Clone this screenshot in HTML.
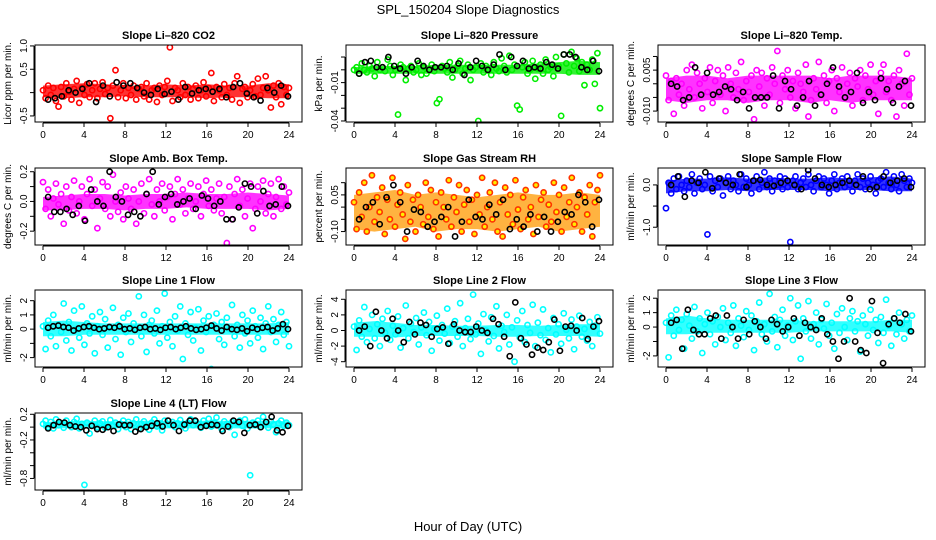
<!DOCTYPE html>
<html><head><meta charset="utf-8">
<style>
html,body{margin:0;padding:0;background:#fff;}
svg{display:block;font-family:"Liberation Sans",sans-serif;}
</style></head>
<body>
<svg id="chart" width="936" height="540" viewBox="0 0 936 540">
<text x="468" y="14" text-anchor="middle" font-size="13">SPL_150204  Slope Diagnostics</text>
<text x="468" y="531" text-anchor="middle" font-size="13">Hour of Day (UTC)</text>
</svg>
<script>
// ---- data arrays (hour positions spread evenly across 0-24) ----
const hourTicks = [0,4,8,12,16,20,24];

const co2Vals = [0.05,-0.12,0.15,-0.05,0.1,-0.18,-0.3,0.12,-0.08,0.2,0.02,-0.15,0.08,0.25,-0.22,0.1,-0.05,0.18,-0.1,0.05,0.2,-0.12,0.08,0.22,-0.03,0.1,-0.55,0.15,0.48,-0.1,0.05,0.2,-0.12,0.1,-0.05,0.15,-0.15,0.08,0.12,-0.08,0.2,-0.15,0.05,0.1,-0.2,0.15,-0.05,0.12,0.25,0.97,-0.18,0.1,0.05,-0.1,0.2,-0.05,0.12,-0.15,0.08,0.15,-0.12,0.05,0.22,-0.08,0.1,0.42,-0.18,0.12,0.05,-0.1,0.18,-0.05,0.1,-0.15,0.2,0.35,-0.22,0.08,0.12,-0.1,0.05,0.18,-0.08,0.3,-0.05,0.1,0.35,0.05,-0.32,0.15,-0.1,0.2,-0.25,0.12,-0.05,0.1];
const co2Black = [-0.15,-0.12,-0.08,0.05,0.0,0.08,0.2,-0.2,0.15,-0.08,0.22,0.15,0.2,0.1,0.0,-0.05,0.08,-0.03,0.02,-0.15,0.12,-0.02,0.05,0.08,0.02,0.08,-0.1,0.12,0.2,-0.02,-0.1,-0.17,0.1,0.0,0.15,-0.08];
const co2BandLo = [-0.1,-0.12,-0.1,-0.1,-0.08,-0.1,-0.1,-0.1,-0.12,-0.1,-0.1,-0.12,-0.12];
const co2BandHi = [0.15,0.18,0.2,0.18,0.15,0.15,0.18,0.15,0.18,0.15,0.15,0.2,0.18];

const presVals = [0.0,0.002,-0.003,0.005,0.0,-0.002,0.003,0.001,-0.005,0.006,0.0,0.002,-0.001,0.008,0.003,-0.004,0.0,-0.035,0.004,0.002,-0.008,0.001,0.003,-0.002,0.0,0.005,-0.004,0.002,-0.003,0.0,0.004,-0.001,-0.026,-0.023,0.003,0.001,-0.002,0.006,-0.006,0.0,0.003,0.007,-0.003,0.001,0.004,-0.008,0.0,0.002,-0.040,0.005,-0.002,0.003,0.0,-0.004,0.006,0.001,-0.001,0.009,0.003,-0.002,0.011,0.0,0.004,-0.028,-0.031,0.002,0.006,-0.003,0.0,0.007,-0.007,0.001,0.004,-0.003,0.008,0.0,0.002,-0.005,0.010,0.003,-0.036,0.012,0.005,-0.002,0.014,0.003,0.009,-0.001,0.006,-0.012,0.004,0.0,0.008,-0.011,0.013,-0.030];
const presBlack = [-0.003,0.006,0.007,0.002,0.002,0.010,0.003,0.001,-0.003,0.002,0.007,0.003,0.0,0.002,0.002,0.003,0.0,0.005,-0.004,0.002,0.007,0.003,0.0,0.004,0.012,0.0,0.010,0.003,0.007,0.001,0.002,0.001,0.006,0.004,0.001,0.012,0.012,0.010,0.002,0.0,0.007,-0.001];
const presBandLo = [-0.003,-0.003,-0.003,-0.003,-0.003,-0.003,-0.003,-0.003,-0.003,-0.003,-0.003,-0.004,-0.004];
const presBandHi = [0.002,0.003,0.003,0.003,0.004,0.004,0.004,0.004,0.004,0.005,0.006,0.007,0.006];

const tempVals = [0.003,-0.006,0.001,-0.011,0.002,-0.004,0.0,-0.008,0.005,-0.002,0.007,-0.005,0.004,0.0,-0.009,0.002,-0.003,0.006,-0.007,0.001,0.005,-0.004,0.003,-0.01,0.006,0.0,-0.005,0.004,-0.002,0.008,-0.006,0.001,-0.003,0.003,-0.013,0.005,-0.001,0.004,-0.008,0.002,-0.004,0.006,0.0,0.012,-0.007,0.003,-0.002,0.005,-0.005,0.001,-0.009,0.004,0.0,-0.003,0.007,-0.012,-0.006,0.002,-0.002,0.008,-0.004,0.003,-0.007,0.001,0.005,-0.01,0.002,-0.003,0.006,-0.005,0.0,0.004,-0.008,0.002,-0.001,0.005,-0.006,0.003,-0.002,0.007,-0.004,0.001,-0.011,0.004,0.007,-0.003,0.001,-0.006,0.003,-0.012,0.005,0.0,-0.008,0.011,-0.004,0.002];
const tempBlack = [0.000,-0.001,-0.006,-0.005,0.006,-0.004,0.004,-0.004,-0.003,-0.001,-0.002,-0.006,-0.003,-0.009,-0.005,-0.005,-0.005,0.003,-0.009,0.001,-0.002,-0.008,-0.005,0.001,-0.008,-0.004,0.000,0.006,-0.001,-0.005,-0.003,0.004,-0.007,-0.003,-0.006,0.002,-0.002,-0.007,-0.001,0.001,-0.008];
const tempBandLo = [-0.006,-0.007,-0.006,-0.006,-0.007,-0.006,-0.006,-0.007,-0.006,-0.007,-0.006,-0.006,-0.006];
const tempBandHi = [0.002,0.003,0.003,0.002,0.003,0.003,0.003,0.003,0.002,0.003,0.003,0.003,0.002];

const ambVals = [0.13,-0.05,0.08,-0.1,0.02,0.12,-0.02,0.05,-0.15,0.1,-0.06,0.03,0.14,-0.08,0.0,0.1,-0.12,0.05,0.15,-0.03,0.08,-0.18,0.02,0.13,-0.05,0.1,-0.1,0.18,0.0,-0.07,0.06,-0.12,0.1,0.02,-0.05,0.08,-0.15,0.0,0.12,-0.08,0.05,0.15,-0.02,-0.1,0.08,0.0,0.12,-0.06,0.03,0.1,-0.12,0.05,0.15,-0.02,0.08,-0.08,0.02,0.12,-0.05,0.0,0.1,-0.1,0.05,0.14,-0.03,0.08,-0.06,0.02,0.12,-0.08,0.03,-0.28,0.1,-0.12,0.05,0.15,-0.03,0.08,-0.1,0.02,0.12,-0.18,-0.05,0.1,0.0,0.14,-0.08,0.05,0.12,-0.1,0.03,0.15,-0.05,0.1,-0.02,0.06];
const ambBlack = [0.03,-0.07,-0.07,-0.05,-0.09,-0.03,-0.13,0.08,0.0,-0.03,0.2,0.03,0.0,-0.09,-0.07,-0.1,0.05,0.2,-0.02,0.03,0.05,-0.02,0.0,0.02,-0.05,0.04,0.02,-0.03,0.0,-0.12,-0.12,-0.04,0.12,0.1,-0.08,0.07,-0.03,-0.02,0.1,-0.03];
const ambBandLo = [-0.06,-0.06,-0.05,-0.05,-0.06,-0.05,-0.05,-0.04,-0.05,-0.05,-0.05,-0.06,-0.05];
const ambBandHi = [0.03,0.04,0.05,0.05,0.04,0.05,0.05,0.06,0.05,0.05,0.06,0.05,0.04];

const rhVals = [0.02,-0.09,0.06,-0.04,0.1,-0.1,0.0,0.13,-0.06,0.04,-0.02,0.08,-0.11,0.03,-0.05,0.12,-0.08,0.01,0.06,-0.03,-0.13,0.09,-0.06,0.03,-0.1,0.05,0.0,-0.07,0.1,-0.04,0.07,-0.09,0.02,-0.12,0.06,0.0,-0.05,0.11,-0.08,0.04,-0.02,0.09,-0.1,0.01,0.07,-0.06,0.03,-0.11,0.05,-0.03,0.12,-0.08,0.0,0.06,-0.05,0.1,-0.1,0.02,-0.12,0.08,-0.03,0.05,-0.07,0.11,-0.01,-0.09,0.04,0.07,-0.05,0.0,-0.11,0.09,-0.04,0.03,0.06,-0.08,0.01,-0.06,0.1,-0.02,0.05,-0.1,0.08,-0.04,0.02,0.12,-0.07,0.0,0.06,-0.1,0.04,-0.03,0.09,-0.12,0.02,0.07,0.13];
const rhBlack = [-0.05,0.0,0.02,-0.07,0.04,0.09,0.02,-0.1,-0.01,-0.02,-0.08,-0.06,-0.04,0.0,-0.12,-0.06,0.03,-0.04,-0.05,0.01,-0.03,0.03,-0.09,-0.05,-0.08,-0.03,-0.1,-0.04,-0.1,-0.06,-0.02,-0.03,0.05,0.02,-0.08,0.03];
const rhBandLo = [-0.09,-0.1,-0.09,-0.08,-0.1,-0.09,-0.09,-0.1,-0.09,-0.08,-0.1,-0.09,-0.08];
const rhBandHi = [0.05,0.06,0.07,0.05,0.06,0.05,0.04,0.05,0.06,0.05,0.05,0.06,0.05];

const sampVals = [-0.55,0.05,-0.2,0.15,-0.1,0.2,0.0,-0.15,0.1,-0.05,0.25,-0.2,0.05,0.15,-0.1,0.0,-1.17,0.2,-0.15,0.1,-0.05,0.15,-0.25,0.05,0.2,-0.1,0.1,0.0,-0.15,0.25,-0.05,0.15,0.0,-0.2,0.1,0.2,-0.1,0.05,0.3,-0.05,0.15,-0.15,0.1,0.0,0.2,-0.1,0.15,-0.05,-1.35,0.1,0.2,-0.1,0.05,0.15,-0.05,0.25,0.0,-0.15,0.1,0.2,-0.05,0.15,0.0,-0.2,0.1,0.25,-0.1,0.05,0.15,-0.05,0.2,0.0,-0.15,0.1,0.25,-0.05,0.15,-0.1,0.05,0.2,0.0,-0.2,0.1,0.15,-0.05,0.3,0.05,-0.1,0.2,0.0,-0.15,0.25,0.1,-0.05,0.15,0.05];
const sampBlack = [0.0,0.2,-0.28,0.1,0.05,0.3,-0.08,0.15,0.05,0.0,0.25,-0.05,0.1,0.12,0.0,-0.02,0.05,0.1,0.0,-0.1,0.35,0.15,0.0,-0.05,0.0,0.05,0.1,0.0,0.2,-0.1,-0.05,0.2,0.05,0.1,0.15,-0.05];
const sampBandLo = [-0.2,-0.15,-0.15,-0.12,-0.15,-0.12,-0.12,-0.12,-0.15,-0.12,-0.12,-0.15,-0.15];
const sampBandHi = [0.1,0.15,0.15,0.18,0.15,0.18,0.15,0.15,0.18,0.15,0.18,0.2,0.15];

const line1Vals = [0.2,-1.4,0.6,-0.5,1.0,-1.2,0.3,-0.2,1.8,-0.8,0.5,-1.5,1.3,0.0,-0.6,1.6,-1.1,0.4,-0.3,0.9,-1.7,0.2,1.2,-0.4,0.7,-1.3,0.1,1.5,-0.7,0.3,-1.8,0.8,-0.2,1.1,-0.9,0.4,0.0,2.3,-0.5,1.0,-1.6,0.3,0.6,-0.3,1.3,-1.0,0.2,2.5,-0.6,0.5,-1.2,0.9,-0.1,1.6,-2.1,0.4,-0.4,1.2,-0.8,0.1,1.4,-1.5,0.6,-0.2,0.9,-2.8,0.3,1.1,-0.7,0.5,-1.1,0.8,0.0,1.7,-0.5,0.3,-1.3,1.0,-0.3,0.6,-1.0,1.3,0.2,-0.6,0.8,-1.4,0.4,1.6,-0.2,0.7,-0.9,0.3,1.2,-0.4,0.5,-1.2];
const line1Black = [0.1,0.2,0.25,0.15,0.1,-0.1,0.05,0.15,0.2,0.1,0.0,0.05,0.15,0.1,0.2,0.0,0.05,-0.05,0.1,0.15,0.0,0.05,-0.05,0.1,0.15,0.0,0.1,0.2,0.05,-0.05,0.0,0.1,0.25,0.05,-0.1,0.15,0.0,-0.05,0.05,-0.15,0.1,0.0,0.1,0.15,-0.1,0.05,0.35,0.0];
const line1BandLo = [-0.5,-0.5,-0.4,-0.4,-0.4,-0.4,-0.4,-0.4,-0.4,-0.4,-0.4,-0.4,-0.4];
const line1BandHi = [0.5,0.6,0.5,0.4,0.4,0.4,0.4,0.4,0.4,0.4,0.4,0.4,0.5];

const line2Vals = [0.5,-2.5,1.3,-0.8,3.0,-1.5,0.2,2.0,-1.0,0.8,-2.0,1.5,-0.3,2.5,-1.2,0.6,-0.5,1.8,-2.2,0.3,3.2,-1.0,0.9,-0.2,1.6,-1.8,0.4,2.3,-0.6,1.1,-2.6,0.2,1.9,-1.3,0.7,-0.4,2.8,-1.6,0.5,1.2,-0.8,3.5,-2.0,0.3,1.5,-1.1,4.6,-0.5,0.9,-3.0,2.1,0.0,-1.4,1.7,-0.7,3.1,-2.3,0.6,-0.2,2.0,-1.8,0.4,-4.0,1.3,-0.9,2.5,-1.5,0.7,-0.3,3.3,-2.0,1.0,-0.6,2.7,-1.2,0.3,-2.8,1.6,-0.5,0.8,-1.7,2.2,0.1,-1.0,1.4,-2.4,0.5,1.9,-0.8,0.2,-1.3,1.1,-2.0,0.6,1.7,-0.4];
const line2Black = [0.0,0.5,-2.0,2.4,0.0,-1.0,1.5,0.0,-1.5,1.1,-0.5,1.0,0.7,-0.8,0.2,0.4,-1.7,0.8,0.0,-0.2,-0.2,0.5,0.0,-0.3,1.5,0.8,-0.8,-3.3,3.6,-1.0,-1.8,-3.1,-2.2,-2.5,-1.5,1.4,-2.6,0.5,0.6,0.0,1.6,-1.1,0.5,1.2];
const line2BandLo = [-0.8,-0.8,-0.9,-0.7,-0.7,-0.7,-0.7,-0.8,-0.8,-0.7,-0.7,-0.7,-0.8];
const line2BandHi = [1.0,1.2,1.0,0.7,0.7,0.6,0.6,0.7,0.7,0.6,0.7,0.8,0.8];

const line3Vals = [0.3,-2.1,0.8,-0.6,1.2,-0.2,0.5,-1.5,0.9,0.1,-0.8,1.4,-0.3,0.6,-1.8,0.2,1.0,-0.5,0.4,-1.2,0.7,0.0,1.3,-0.9,0.3,-0.4,1.5,-1.3,0.6,0.1,-0.7,1.1,-0.2,0.8,-1.6,0.4,1.7,-0.5,0.2,-1.0,2.3,-0.3,0.7,-1.4,0.5,1.2,-0.6,0.1,2.0,-0.9,0.4,1.5,-2.2,0.6,-0.3,1.8,-0.8,0.2,1.0,-1.2,0.5,-0.1,1.6,-0.6,0.3,-1.5,0.9,-0.4,1.3,0.0,-0.9,0.6,1.1,-0.3,0.4,-1.7,0.8,0.2,-0.6,1.2,-0.2,0.5,-1.1,0.7,-0.4,1.9,0.1,-1.3,0.6,-0.5,1.0,0.2,-0.8,0.5,-0.3,0.8];
const line3Black = [0.3,0.5,-1.5,1.2,-0.2,-0.5,-0.5,0.6,0.8,-0.8,0.8,0.0,-0.8,0.5,-0.5,0.4,0.0,-0.8,0.5,0.2,-0.3,0.0,0.6,-0.6,0.3,0.0,-0.2,0.6,-0.5,-1.0,-2.2,-1.0,2.0,-1.0,-1.6,-1.8,1.8,-0.4,-2.5,0.2,0.6,0.3,0.9,-0.3];
const line3BandLo = [-0.5,-0.5,-0.4,-0.4,-0.4,-0.4,-0.4,-0.3,-0.3,-0.3,-0.3,-0.3,-0.4];
const line3BandHi = [0.6,0.8,0.6,0.5,0.5,0.5,0.5,0.4,0.4,0.4,0.4,0.5,0.5];

const line4Vals = [0.05,0.1,0.0,0.08,-0.02,0.12,0.03,0.06,-0.01,0.1,0.04,0.0,0.08,0.13,-0.02,0.05,-0.9,0.07,-0.1,0.03,0.1,0.0,0.06,0.09,-0.01,0.04,0.11,0.02,0.07,-0.03,0.05,0.1,0.0,0.08,-0.03,0.06,0.12,-0.02,0.05,0.09,0.02,-0.04,0.07,0.12,0.01,0.06,-0.05,0.1,-1.05,0.04,0.08,0.0,0.06,0.11,0.02,-0.02,0.07,0.12,0.03,0.08,0.05,-0.01,0.1,0.04,0.13,0.01,0.07,0.15,0.03,-0.03,0.09,0.05,0.0,0.08,-0.12,0.06,0.1,0.02,0.12,-0.02,-0.75,0.07,0.03,0.1,0.0,0.16,0.05,-0.01,0.09,0.04,-0.08,0.06,0.1,0.02,0.07,0.03];
const line4Black = [-0.02,0.03,0.08,0.07,0.03,0.01,0.0,-0.05,0.02,-0.03,-0.04,0.0,-0.06,0.04,0.03,0.03,-0.07,-0.03,0.0,0.02,0.06,0.01,0.1,0.03,-0.06,0.04,0.1,0.1,0.0,0.02,0.04,0.03,-0.06,0.01,0.1,0.08,-0.09,0.03,0.04,0.0,0.08,0.16,-0.05,-0.08,0.02];
const line4BandLo = [-0.02,-0.02,-0.02,-0.02,-0.02,-0.02,-0.02,-0.02,-0.02,-0.02,-0.02,-0.02,-0.02];
const line4BandHi = [0.08,0.09,0.1,0.09,0.09,0.1,0.1,0.1,0.1,0.1,0.1,0.1,0.09];

// ---- panel layout (positions are layout, not data) ----
const panels = [
 {name:'co2',title:'Slope Li\u2013820 CO2',ylab:'Licor ppm per min.',col:0,row:0,ymin:-0.63,ymax:1.02,ticks:[-0.5,0,0.5,1.0],labels:{'-0.5':'-0.5','0.5':'0.5','1':'1.0'},vals:co2Vals,blk:co2Black,lo:co2BandLo,hi:co2BandHi,color:'#ff0000'},
 {name:'pressure',title:'Slope Li\u2013820 Pressure',ylab:'kPa per min.',col:1,row:0,ymin:-0.0408,ymax:0.0194,ticks:[-0.04,-0.03,-0.02,-0.01,0,0.01],labels:{'-0.04':'-0.04','-0.01':'-0.01'},vals:presVals,blk:presBlack,lo:presBandLo,hi:presBandHi,color:'#00ee00'},
 {name:'li820-temp',title:'Slope Li\u2013820 Temp.',ylab:'degrees C per min.',col:2,row:0,ymin:-0.0140,ymax:0.0142,ticks:[-0.010,-0.005,0,0.005,0.010],labels:{'-0.01':'-0.010','0.005':'0.005'},vals:tempVals,blk:tempBlack,lo:tempBandLo,hi:tempBandHi,color:'#ff00ff'},
 {name:'amb-box-temp',title:'Slope Amb. Box Temp.',ylab:'degrees C per min.',col:0,row:1,ymin:-0.293,ymax:0.225,ticks:[-0.2,-0.1,0,0.1,0.2],labels:{'-0.2':'-0.2','0':'0.0','0.2':'0.2'},vals:ambVals,blk:ambBlack,lo:ambBandLo,hi:ambBandHi,color:'#ff00ff'},
 {name:'gas-stream-rh',title:'Slope Gas Stream RH',ylab:'percent per min.',col:1,row:1,ymin:-0.155,ymax:0.16,ticks:[-0.1,-0.05,0,0.05,0.1],labels:{'-0.1':'-0.10','0.05':'0.05'},vals:rhVals,blk:rhBlack,lo:rhBandLo,hi:rhBandHi,color:'#ff3300',fill:'#ffee00',bandColor:'#ff9900'},
 {name:'sample-flow',title:'Slope Sample Flow',ylab:'ml/min per min.',col:2,row:1,ymin:-1.42,ymax:0.4,ticks:[-1.0,-0.5,0],labels:{'-1':'-1.0','0':'0.0'},vals:sampVals,blk:sampBlack,lo:sampBandLo,hi:sampBandHi,color:'#0000ff'},
 {name:'line1-flow',title:'Slope Line 1 Flow',ylab:'ml/min per min.',col:0,row:2,ymin:-2.66,ymax:2.75,ticks:[-2,-1,0,1,2],labels:{'-2':'-2','0':'0','1':'1','2':'2'},vals:line1Vals,blk:line1Black,lo:line1BandLo,hi:line1BandHi,color:'#00ffff'},
 {name:'line2-flow',title:'Slope Line 2 Flow',ylab:'ml/min per min.',col:1,row:2,ymin:-4.68,ymax:5.19,ticks:[-4,-2,0,2,4],labels:{'-4':'-4','-2':'-2','0':'0','2':'2','4':'4'},vals:line2Vals,blk:line2Black,lo:line2BandLo,hi:line2BandHi,color:'#00ffff'},
 {name:'line3-flow',title:'Slope Line 3 Flow',ylab:'ml/min per min.',col:2,row:2,ymin:-2.77,ymax:2.57,ticks:[-2,-1,0,1,2],labels:{'-2':'-2','0':'0','1':'1','2':'2'},vals:line3Vals,blk:line3Black,lo:line3BandLo,hi:line3BandHi,color:'#00ffff'},
 {name:'line4-flow',title:'Slope Line 4 (LT) Flow',ylab:'ml/min per min.',col:0,row:3,ymin:-0.98,ymax:0.22,ticks:[-0.8,-0.6,-0.4,-0.2,0,0.2],labels:{'-0.8':'-0.8','-0.2':'-0.2','0.2':'0.2'},vals:line4Vals,blk:line4Black,lo:line4BandLo,hi:line4BandHi,color:'#00ffff'}
];
const colX = [35,346,658];
const rowY = [45,168,290,413];
const boxW = 267, boxH = 77;

const svg = document.getElementById('chart');
const NS = 'http://www.w3.org/2000/svg';
function mk(tag, attrs, parent){
  const e = document.createElementNS(NS, tag);
  for (const k in attrs) e.setAttribute(k, attrs[k]);
  (parent||svg).appendChild(e);
  return e;
}

panels.forEach(p=>{
  const L = colX[p.col], T = rowY[p.row], R = L+boxW, B = T+boxH;
  const g = mk('g',{});
  
  
  const xs = h => L + 8 + h*(boxW-21)/24;
  const ys = v => T + (p.ymax - v)/(p.ymax - p.ymin)*boxH;
  const clip = 'clip-'+p.name;
  const cp = mk('clipPath',{id:clip},g); mk('rect',{x:L,y:T,width:boxW,height:boxH},cp);

  const t = mk('text',{x:(L+R)/2,y:T-6,'text-anchor':'middle','font-size':'11','font-weight':'bold'},g);
  t.textContent = p.title;
  
  

  const pts = mk('g',{'clip-path':'url(#'+clip+')'},g);
  
  
  const n = p.lo.length;
  let d = '';
  p.lo.forEach((v,i)=>{ d += (i?'L':'M')+xs(i*24/(n-1)).toFixed(1)+','+ys(v).toFixed(1); });
  for (let i=n-1;i>=0;i--) d += 'L'+xs(i*24/(n-1)).toFixed(1)+','+ys(p.hi[i]).toFixed(1);
  const band = mk('path',{d:d+'Z',fill:p.bandColor||p.color,'fill-opacity':p.bandColor?'0.75':'0.8',stroke:'none'},pts);
  
  
  p.vals.forEach((v,i)=>{
    const c = mk('circle',{cx:xs(i*24/(p.vals.length-1)),cy:ys(v),r:2.6,fill:p.fill||'none',stroke:p.color,'stroke-width':1.6},pts);
    
    
  });
  p.blk.forEach((v,i)=>{
    const c = mk('circle',{cx:xs(0.5+i*23.4/(p.blk.length-1)),cy:ys(v),r:2.6,fill:'none',stroke:'#000','stroke-width':1.6},pts);
    
    
  });

  const box = mk('rect',{x:L,y:T,width:boxW,height:boxH,fill:'none',stroke:'#000','stroke-width':1},g);
  
  

  const xa = mk('g',{},g);
  
  
  mk('line',{x1:xs(0),x2:xs(24),y1:B+1,y2:B+1,stroke:'#000'},xa);
  hourTicks.forEach(h=>{
    mk('line',{x1:xs(h),x2:xs(h),y1:B+1,y2:B+5,stroke:'#000'},xa);
    const tl = mk('text',{x:xs(h),y:B+16,'text-anchor':'middle','font-size':'10'},xa);
    tl.textContent = h;
  });
  const ya = mk('g',{},g);
  
  
  const tv = p.ticks;
  mk('line',{x1:L-1,x2:L-1,y1:ys(tv[0]),y2:ys(tv[tv.length-1]),stroke:'#000'},ya);
  tv.forEach(v=>{
    mk('line',{x1:L-5,x2:L-1,y1:ys(v),y2:ys(v),stroke:'#000'},ya);
    const key = String(v);
    if (p.labels[key]!==undefined){
      const tl = mk('text',{x:L-8,y:ys(v),'text-anchor':'middle','font-size':'10',transform:'rotate(-90 '+(L-8)+' '+ys(v)+')'},ya);
      tl.textContent = p.labels[key];
    }
  });
  const yl = mk('text',{x:L-24,y:(T+B)/2,'text-anchor':'middle','font-size':'10',transform:'rotate(-90 '+(L-24)+' '+((T+B)/2)+')'},g);
  yl.textContent = p.ylab;
  
  
});
</script>
</body></html>
